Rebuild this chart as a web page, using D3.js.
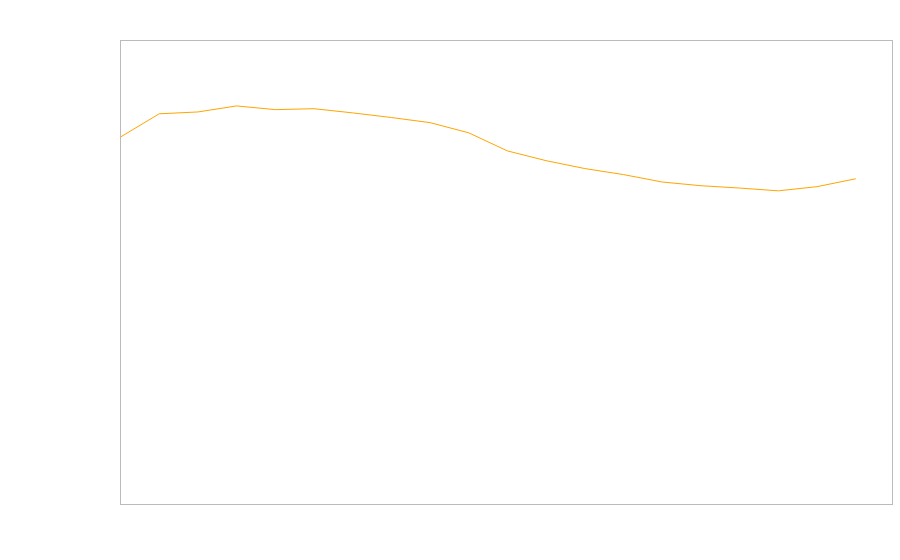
<!DOCTYPE html>
<html>
<head>
<meta charset="utf-8">
<script src="https://cdn.jsdelivr.net/npm/d3@7"></script>
<style>
  html, body { margin: 0; padding: 0; background: #fff; }
  svg { display: block; }
</style>
</head>
<body>
<svg id="chart" width="900" height="560"></svg>
<script>
const indices = d3.range(20);
const values = [79.2, 84.2, 84.6, 85.9, 85.1, 85.3, 84.4, 83.4, 82.3, 80.1,
                76.2, 74.1, 72.4, 71.1, 69.5, 68.7, 68.2, 67.6, 68.5, 70.2];

const svg = d3.select("#chart");
const margin = { left: 120.5, top: 40.5, right: 892.5, bottom: 504.5 };

const x = d3.scaleLinear().domain([0, 19.95]).range([margin.left, margin.right]);
const y = d3.scaleLinear().domain([0, 100]).range([margin.bottom, margin.top]);

svg.append("rect")
  .attr("x", margin.left).attr("y", margin.top)
  .attr("width", margin.right - margin.left)
  .attr("height", margin.bottom - margin.top)
  .attr("fill", "none")
  .attr("stroke", "#bbbbbb")
  .attr("stroke-width", 1);

const line = d3.line()
  .x((d, i) => x(indices[i]))
  .y(d => y(d));

svg.append("path")
  .datum(values)
  .attr("d", line)
  .attr("fill", "none")
  .attr("stroke", "#ffa500")
  .attr("stroke-width", 1);
</script>
</body>
</html>
